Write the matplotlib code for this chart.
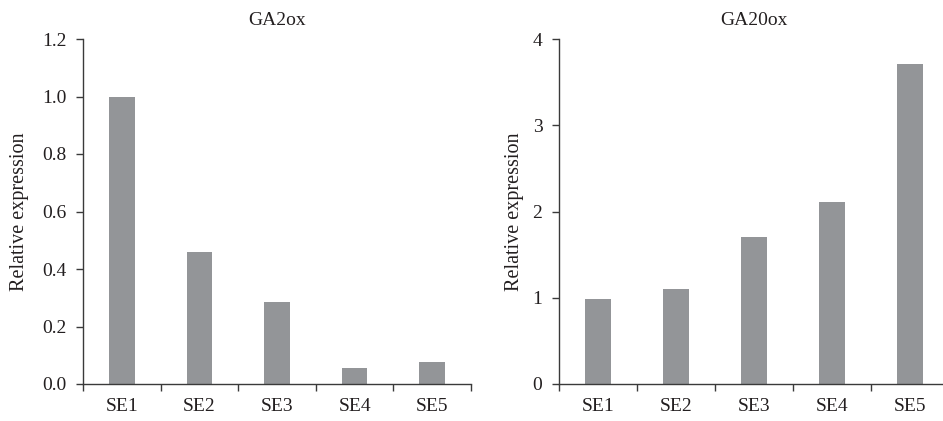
import matplotlib
matplotlib.use("Agg")
import matplotlib.pyplot as plt
import numpy as np

# data
samples = ["SE1", "SE2", "SE3", "SE4", "SE5"]
ga2ox = [1.0, 0.46, 0.285, 0.056, 0.077]
ga20ox = [0.985, 1.10, 1.70, 2.11, 3.71]
ga2ox_ticks = [0.0, 0.2, 0.4, 0.6, 0.8, 1.0, 1.2]
ga20ox_ticks = [0, 1, 2, 3, 4]

plt.rcParams["font.family"] = ["Liberation Serif", "DejaVu Serif"]
bar_color = "#939598"
axis_color = "#3a3a3a"
text_color = "#231f20"

fig = plt.figure(figsize=(9.43, 4.21), dpi=100)
ax1 = fig.add_axes([83 / 943, 37 / 421, 388 / 943, 345 / 421])
ax2 = fig.add_axes([559 / 943, 37 / 421, 390 / 943, 345 / 421])


def draw_panel(ax, values, title, yticks, fmt):
    x = np.arange(len(samples))
    ax.bar(x, values, width=0.33, color=bar_color, zorder=2)
    ax.set_xlim(-0.5, len(samples) - 0.5)
    ax.set_ylim(yticks[0], yticks[-1])

    # boundary ticks below the axis, category labels between them
    ax.set_xticks(np.arange(len(samples) + 1) - 0.5)
    ax.set_xticklabels([])
    ax.set_xticks(x, minor=True)
    ax.set_xticklabels(samples, minor=True)
    ax.tick_params(axis="x", which="major", direction="out", length=5,
                   width=1, color=axis_color)
    ax.tick_params(axis="x", which="minor", length=0, pad=10,
                   labelsize=14, labelcolor=text_color)

    ax.set_yticks(yticks)
    ax.set_yticklabels([fmt.format(v) for v in yticks])
    ax.tick_params(axis="y", direction="out", length=5, width=1,
                   color=axis_color, pad=7, labelsize=14,
                   labelcolor=text_color)

    for side in ["top", "right"]:
        ax.spines[side].set_visible(False)
    for side in ["left", "bottom"]:
        ax.spines[side].set_color(axis_color)
        ax.spines[side].set_linewidth(1)

    ax.set_ylabel("Relative expression", fontsize=14.5, color=text_color)
    ax.set_title(title, fontsize=14, color=text_color, pad=10)


draw_panel(ax1, ga2ox, "GA2ox", ga2ox_ticks, "{:.1f}")
draw_panel(ax2, ga20ox, "GA20ox", ga20ox_ticks, "{:d}")
ax1.yaxis.set_label_coords(-0.14, 0.5)
ax2.yaxis.set_label_coords(-0.089, 0.5)

fig.savefig("out.png", dpi=100)
